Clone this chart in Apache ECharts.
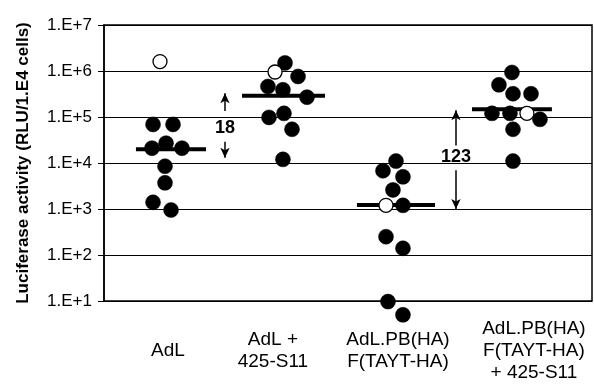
<!DOCTYPE html>
<html>
<head>
<meta charset="utf-8">
<script src="https://cdn.jsdelivr.net/npm/echarts@6/dist/echarts.min.js"></script>
<style>html,body{margin:0;padding:0;background:#fff}#c{width:594px;height:389px}</style>
</head>
<body>
<div id="c"></div>
<script>
// ---- data ----
const categories = ['AdL', 'AdL +\n425-S11', 'AdL.PB(HA)\nF(TAYT-HA)', 'AdL.PB(HA)\nF(TAYT-HA)\n+ 425-S11'];
// filled points: [jitter offset within group, value]
const filledAdL   = [[-0.098,6.9e4],[0.074,6.9e4],[-0.107,2.1e4],[0.014,2.7e4],[0.151,2.1e4],[0.005,8.5e3],[0.005,3.7e3],[-0.098,1.4e3],[0.057,9.5e2]];
const filledAdL425 = [[0.038,1.5e6],[0.150,7.6e5],[-0.109,4.6e5],[0.020,3.9e5],[0.227,2.7e5],[-0.100,9.8e4],[0.029,1.2e5],[0.098,5.4e4],[0.020,1.2e4]];
const filledPB    = [[-0.007,1.1e4],[-0.119,6.8e3],[0.053,5.0e3],[-0.033,2.6e3],[0.053,1.2e3],[-0.093,2.5e2],[0.053,1.4e2],[-0.076,9.7],[0.053,5.0]];
const filledPB425 = [[-0.009,9.3e5],[-0.121,5.0e5],[0.0,3.2e5],[0.155,3.2e5],[-0.181,1.2e5],[-0.026,1.2e5],[0.232,8.9e4],[0.0,5.4e4],[0.0,1.1e4]];
// open points: [group index, offset, value]
const openPoints = [[0,-0.038,1.6e6],[1,-0.048,9.5e5],[2,-0.093,1.2e3],[3,0.120,1.2e5]];
// medians: [group index, left offset, right offset, value]
const medians = [[0,-0.245,0.358,2.0e4],[1,-0.332,0.382,2.9e5],[2,-0.343,0.329,1.22e3],[3,-0.353,0.335,1.48e5]];
// fold-change annotations: [x position, top value, text-top value, text value, text-bottom value, bottom value, label]
const folds = [
  [0.521, 3.3e5, 1.35e5, 5.8e4, 2.9e4, 1.3e4, '18'],
  [2.509, 1.4e5, 2.4e4, 1.35e4, 7.0e3, 1.0e3, '123']
];
const yTicks = [10, 100, 1000, 1e4, 1e5, 1e6, 1e7];
const labelOffsets = [0.03, -0.066, 0.01, 0.18];

const FONT = "'Liberation Sans', Arial, sans-serif";
const groups = [filledAdL, filledAdL425, filledPB, filledPB425];
const filledData = [];
groups.forEach((g, i) => g.forEach(p => filledData.push([i + p[0], p[1]])));
const openData = openPoints.map(p => [p[0] + p[1], p[2]]);

const series = [];
medians.forEach(m => {
  series.push({
    type: 'line', data: [[m[0] + m[1], m[3]], [m[0] + m[2], m[3]]],
    symbol: 'none', lineStyle: {color: '#000', width: 4}, z: 3, silent: true
  });
});
series.push({
  type: 'scatter', data: filledData, symbolSize: 15, clip: false,
  itemStyle: {color: '#000', borderColor: '#000', borderWidth: 0.5, opacity: 1}, z: 4
});
series.push({
  type: 'scatter', data: openData, symbolSize: 14, clip: false,
  itemStyle: {color: '#fff', borderColor: '#000', borderWidth: 1.3, opacity: 1}, z: 5
});
folds.forEach(f => {
  series.push({
    type: 'line', data: [], symbol: 'none',
    markLine: {
      silent: true, symbol: ['none', 'arrow'], symbolSize: [7, 10],
      lineStyle: {color: '#000', width: 1.5, type: 'solid'}, label: {show: false},
      data: [
        [{coord: [f[0], f[2]]}, {coord: [f[0], f[1]]}],
        [{coord: [f[0], f[4]]}, {coord: [f[0], f[5]]}]
      ]
    }
  });
  series.push({
    type: 'scatter', data: [[f[0], f[3]]], symbolSize: 0, clip: false, silent: true,
    itemStyle: {opacity: 1},
    label: {show: true, position: 'inside', formatter: f[6], color: '#000', opacity: 1, fontFamily: FONT, fontWeight: 'bold', fontSize: 18}
  });
});

const chart = echarts.init(document.getElementById('c'), null, {renderer: 'canvas'});
chart.setOption({
  animation: false,
  backgroundColor: '#fff',
  grid: {left: 104, right: 2, top: 25, bottom: 88, show: true, borderColor: '#000', borderWidth: 1.5},
  xAxis: {type: 'value', min: -0.52, max: 3.68, show: false},
  yAxis: {
    type: 'log', logBase: 10, min: yTicks[0], max: yTicks[yTicks.length - 1],
    name: 'Luciferase activity (RLU/1.E4 cells)', nameLocation: 'middle', nameRotate: 90, nameGap: 72,
    nameTextStyle: {fontFamily: FONT, fontWeight: 'bold', fontSize: 17, color: '#000'},
    axisLine: {show: true, onZero: false, lineStyle: {color: '#000', width: 1.5}},
    axisTick: {show: true, length: 6, lineStyle: {color: '#000', width: 1}},
    splitLine: {show: true, lineStyle: {color: '#000', width: 1}},
    minorTick: {show: false},
    axisLabel: {
      fontFamily: FONT, fontSize: 17, color: '#000', margin: 12,
      formatter: v => '1.E+' + Math.round(Math.log10(v))
    }
  },
  series: series
});

const graphics = categories.map((c, i) => {
  const px = chart.convertToPixel({gridIndex: 0}, [i + labelOffsets[i], 10]);
  return {
    type: 'text', x: px[0], y: px[1] + 50,
    style: {text: c, fill: '#000', font: '19px ' + FONT, textAlign: 'center', textVerticalAlign: 'middle', lineHeight: 22},
    silent: true
  };
});
chart.setOption({graphic: graphics});
</script>
</body>
</html>
